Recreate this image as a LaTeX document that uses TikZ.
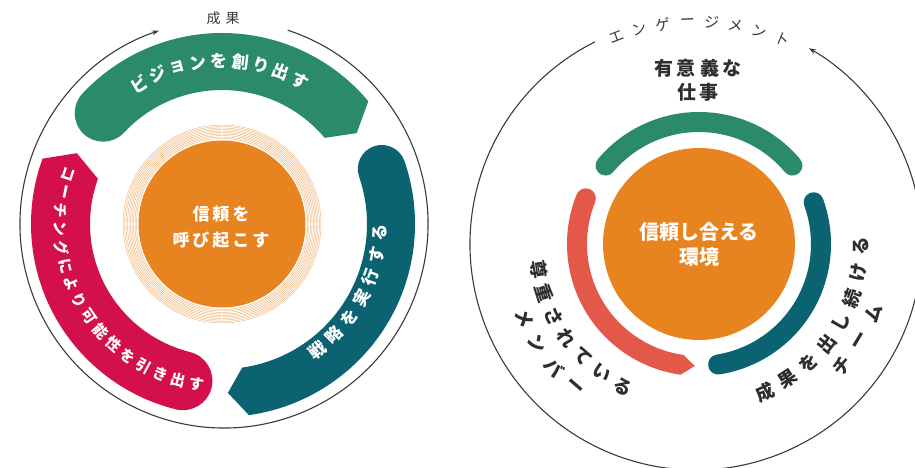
\documentclass[tikz,border=0pt]{standalone}
\usepackage{fontspec}
\newfontfamily\jp{Noto Sans CJK JP}
\usetikzlibrary{arrows.meta,calc}
\definecolor{cgreen}{HTML}{2B8A67}
\definecolor{cteal}{HTML}{0B6271}
\definecolor{cpink}{HTML}{D3104B}
\definecolor{corange}{HTML}{E8841F}
\definecolor{cred}{HTML}{E35849}
\definecolor{cgray}{HTML}{3A3A3A}
\tikzset{
  outerline/.style={draw=cgray, line width=1.1pt},
  wtxt/.style={text=white, inner sep=0pt, font=\jp\bfseries\fontsize{17}{17}\selectfont},
  wtxts/.style={text=white, inner sep=0pt, font=\jp\bfseries\fontsize{15}{15}\selectfont},
  dtxt/.style={text=cgray!80!black, inner sep=0pt, font=\jp\bfseries\fontsize{18.5}{19}\selectfont},
  stxt/.style={text=cgray, inner sep=0pt, font=\jp\fontsize{15}{15}\selectfont},
}
% band: #1 centre, #2 r in, #3 r out, #4 tail angle, #5 head angle, #6 sense (1 = clockwise), #7 colour
\newcommand\band[7]{%
  \pgfmathsetmacro\bm{(#2+#3)/2}%
  \pgfmathsetmacro\bw{(#3-#2)/2}%
  \pgfmathsetmacro\btip{#5-#6*6}%
  \pgfmathsetmacro\bcs{#4+180}%
  \pgfmathsetmacro\bce{#4+180-180*#6}%
  \fill[#7] ([shift={(#4:#3pt)}]#1) arc[start angle=#4, end angle=#5, radius=#3pt]
    -- ([shift={(\btip:\bm pt)}]#1) -- ([shift={(#5:#2pt)}]#1)
    arc[start angle=#5, end angle=#4, radius=#2pt]
    arc[start angle=\bcs, end angle=\bce, radius=\bw pt] -- cycle;}
% text on a circle: #1 centre, #2 radius, #3 first angle, #4 step, #5 rotation offset, #6 style, #7 chars
\newcommand\arctext[7]{%
  \foreach \ch [count=\i from 0] in {#7}{%
    \pgfmathsetmacro\ang{#3+\i*(#4)}%
    \pgfmathsetmacro\rot{\ang+(#5)}%
    \node[#6, rotate=\rot] at ([shift={(\ang:#2pt)}]#1) {\ch};
  }}
\begin{document}
\begin{tikzpicture}[x=1pt,y=1pt]
\useasboundingbox (0,0) rectangle (915,468);
\clip (0,0) rectangle (915,468);
\coordinate (L) at (222,244);
\coordinate (Lo) at (224,244);
\coordinate (R) at (699,224);
\coordinate (Ro) at (696,224);

% ---------- left diagram ----------
\draw[outerline, -{Stealth[length=7pt,width=5pt]}] ([shift={(71.8:204pt)}]Lo) arc[start angle=71.8, end angle=-251.4, radius=204pt];
\node[stxt, font=\jp\fontsize{14}{14}\selectfont] (lres) at (223,450) {成\kern5pt 果};

\foreach \r in {85.5,87,...,99.5} \draw[corange!60, line width=0.45pt] (L) circle[radius=\r pt];
\fill[corange] (L) circle[radius=83.5pt];
\node[wtxt] (lc1) at (221,254) {信\kern3pt 頼\kern3pt を};
\node[wtxt] (lc2) at (221,228) {呼\kern3pt び\kern3pt 起\kern3pt こ\kern3pt す};

\band{L}{134}{191}{137}{40}{1}{cgreen}
\band{L}{145}{193}{19}{-82}{1}{cteal}
\band{L}{132}{191}{256}{160}{1}{cpink}

\arctext{L}{163}{120.6}{-7.4}{-90}{wtxt}{ビ,ジ,ョ,ン,を,創,り,出,す}
\arctext{L}{158}{-53}{8.33}{90}{wtxt}{戦,略,を,実,行,す,る}
\arctext{L}{162}{162}{6.6}{90}{wtxts}{コ,ー,チ,ン,グ,に,よ,り,可,能,性,を,引,き,出,す}

% ---------- right diagram ----------
\draw[outerline, -{Stealth[length=7pt,width=5pt]}] ([shift={(116.6:226pt)}]Ro) arc[start angle=116.6, end angle=420, radius=226pt];
\arctext{Ro}{222}{111}{-6.26}{-90}{stxt}{エ,ン,ゲ,ー,ジ,メ,ン,ト}

\fill[corange] (R) circle[radius=96pt];
\node[wtxt, font=\jp\bfseries\fontsize{20}{20}\selectfont] (rc1) at (699,236) {信頼し合える};
\node[wtxt, font=\jp\bfseries\fontsize{20}{20}\selectfont] (rc2) at (699,211) {環境};

\draw[cgreen, line width=20pt, line cap=round] ([shift={(140:122pt)}]R) arc[start angle=140, end angle=40, radius=122pt];
\draw[cteal, line width=20pt, line cap=round] ([shift={(20:122pt)}]R) arc[start angle=20, end angle=-81, radius=122pt];
\band{R}{112}{132}{158}{262}{-1}{cred}

\node[dtxt, font=\jp\bfseries\fontsize{19}{19}\selectfont] (rt1) at (698,400) {有\kern4pt 意\kern4pt 義\kern4pt な};
\node[dtxt, font=\jp\bfseries\fontsize{19}{19}\selectfont] (rt2) at (698,376) {仕\kern4pt 事};

\arctext{R}{162}{189}{8.8}{90}{dtxt}{尊,重,さ,れ,て,い,る}
\arctext{R}{190}{203}{8.7}{90}{dtxt}{メ,ン,バ,ー}
\arctext{R}{162}{-66}{9.3}{90}{dtxt}{成,果,を,出,し,続,け,る}
\arctext{R}{188}{-40.5}{9.5}{90}{dtxt}{チ,ー,ム}
\end{tikzpicture}
\end{document}
